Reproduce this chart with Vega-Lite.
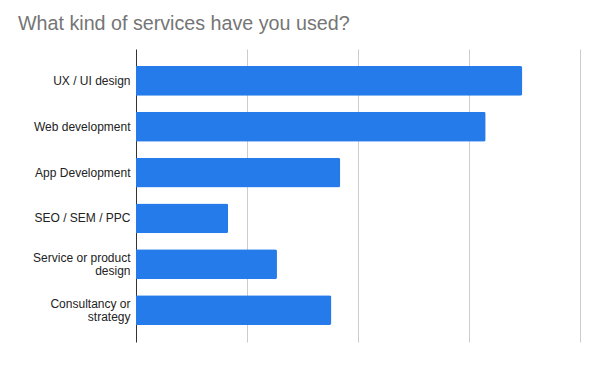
{
  "$schema": "https://vega.github.io/schema/vega-lite/v6.json",
  "width": 444,
  "height": 293,
  "autosize": {"type": "none"},
  "padding": {"left": 136, "top": 49, "right": 19, "bottom": 28},
  "background": "white",
  "title": {
    "text": "What kind of services have you used?",
    "anchor": "start",
    "frame": "group",
    "dx": -118,
    "dy": 18,
    "offset": 17,
    "baseline": "alphabetic",
    "font": "Liberation Sans",
    "fontSize": 19.7,
    "fontWeight": "normal",
    "color": "#757575"
  },
  "data": {
    "values": [
      {"service": "UX / UI design", "count": 34.8},
      {"service": "Web development", "count": 31.5},
      {"service": "App Development", "count": 18.4},
      {"service": "SEO / SEM / PPC", "count": 8.3},
      {"service": "Service or product design", "count": 12.7},
      {"service": "Consultancy or strategy", "count": 17.6}
    ]
  },
  "config": {"view": {"stroke": null}},
  "mark": {"type": "bar", "color": "#267BEA", "cornerRadiusEnd": 2},
  "encoding": {
    "y": {
      "field": "service",
      "type": "nominal",
      "sort": null,
      "scale": {"paddingInner": 0.348, "paddingOuter": 0.37},
      "axis": {
        "title": null,
        "ticks": false,
        "domain": true,
        "domainColor": "#333333",
        "domainWidth": 1,
        "labelFont": "Liberation Sans",
        "labelFontSize": 12,
        "labelColor": "#222222",
        "labelPadding": 6,
        "labelLineHeight": 12.5,
        "labelLimit": 200,
        "labelOffset": {"condition": {"test": "indexof(datum.label, ' or ') >= 0", "value": -6}, "value": 0},
        "labelExpr": "datum.label == 'Service or product design' ? ['Service or product', 'design'] : datum.label == 'Consultancy or strategy' ? ['Consultancy or', 'strategy'] : datum.label"
      }
    },
    "x": {
      "field": "count",
      "type": "quantitative",
      "scale": {"domain": [0, 40], "nice": false},
      "axis": {
        "title": null,
        "labels": false,
        "ticks": false,
        "domain": false,
        "values": [10, 20, 30, 40],
        "grid": true,
        "gridColor": "#cccccc",
        "gridWidth": 1
      }
    }
  }
}
